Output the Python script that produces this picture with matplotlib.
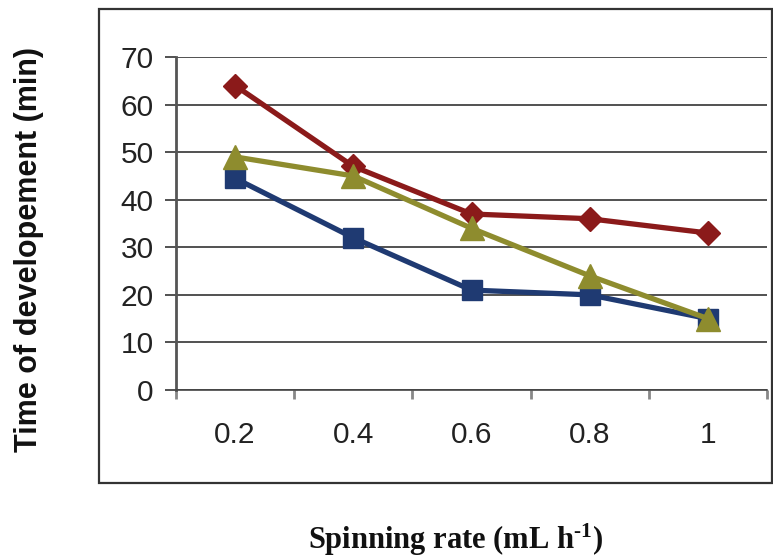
import matplotlib
matplotlib.use("Agg")
import matplotlib.pyplot as plt
from matplotlib.patches import Rectangle

plt.rcParams["mathtext.fontset"] = "custom"
plt.rcParams["mathtext.rm"] = "Liberation Serif:bold"
plt.rcParams["mathtext.bf"] = "Liberation Serif:bold"
plt.rcParams["mathtext.it"] = "Liberation Serif:bold"

categories = ["0.2", "0.4", "0.6", "0.8", "1"]
red_series = [64, 47, 37, 36, 33]
blue_series = [44.5, 32, 21, 20, 15]
olive_series = [49, 45, 34, 24, 15]
y_ticks = [0, 10, 20, 30, 40, 50, 60, 70]

fig = plt.figure(figsize=(7.73, 5.60), dpi=100)
W, H = 773, 560
ax = fig.add_axes([176 / W, 170 / H, (767 - 176) / W, (503 - 170) / H])

x = list(range(len(categories)))
ax.plot(x, red_series, color="#8B1A1A", lw=3.8, marker="D", ms=12, zorder=3)
ax.plot(x, olive_series, color="#8E8C2E", lw=3.8, marker="^", ms=17, zorder=4)
ax.plot(x, blue_series, color="#1F3A72", lw=3.8, marker="s", ms=14.5, zorder=3)
ax.plot(x[-1:], olive_series[-1:], color="#8E8C2E", lw=0, marker="^", ms=15, zorder=5)

ax.set_xlim(-0.5, len(categories) - 0.5)
ax.set_ylim(0, 70)
ax.set_yticks(y_ticks)
ax.set_yticklabels([str(v) for v in y_ticks], fontsize=21.5, family="Liberation Sans", color="#222")
ax.set_xticks(x)
ax.set_xticklabels(categories, fontsize=21.5, family="Liberation Sans", color="#222")
ax.tick_params(axis="x", which="major", length=0, pad=22)
ax.set_xticks([i + 0.5 for i in range(-1, len(categories))], minor=True)
ax.tick_params(axis="x", which="minor", length=6.5, width=2, color="#888", direction="out")
ax.tick_params(axis="y", which="major", length=8, width=1.2, color="#333", pad=8)

ax.yaxis.grid(True, color="#333", lw=1.2)
ax.set_axisbelow(True)
for s in ["top", "right"]:
    ax.spines[s].set_visible(False)
ax.spines["left"].set_color("#555")
ax.spines["left"].set_linewidth(2)
ax.spines["bottom"].set_color("#444")
ax.spines["bottom"].set_linewidth(1.2)

fig.text(29 / W, 1 - 250 / H, "Time of developement (min)", rotation=90,
         ha="center", va="center", fontsize=22, fontweight="bold",
         family="Liberation Sans", color="#111")
fig.text(455 / W, 1 - 540 / H, r"Spinning rate (mL h$^{\text{-1}}$)",
         ha="center", va="center", fontsize=22, fontweight="bold",
         family="Liberation Serif", color="#111")

frame = Rectangle((99 / W, 1 - 483 / H), (772 - 99) / W, (483 - 9) / H,
                  transform=fig.transFigure, fill=False, ec="#333", lw=1.6)
fig.patches.append(frame)

fig.savefig("out.png", dpi=100)
